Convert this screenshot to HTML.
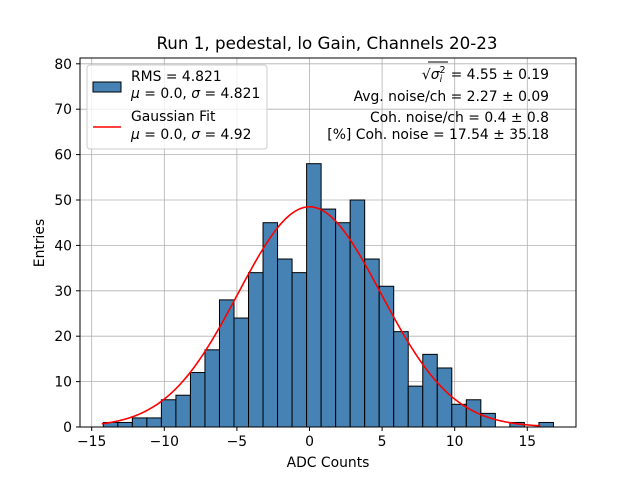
<!DOCTYPE html>
<html><head><meta charset="utf-8"><style>
body{margin:0;background:#fff;}
svg text{font-family:"DejaVu Sans","Liberation Sans",sans-serif;}
</style></head><body>
<svg id="chart" width="640" height="480" viewBox="0 0 640 480" xmlns="http://www.w3.org/2000/svg">
<rect width="640" height="480" fill="#fff"/>
<text x="327" y="49" font-size="16.7" text-anchor="middle">Run 1, pedestal, lo Gain, Channels 20-23</text>
<g id="grid"></g>
<g id="bars"></g>
<g id="curve"></g>
<rect x="80" y="58" width="496" height="369" fill="none" stroke="#000" stroke-width="1"/>
<g id="axes"></g>
<text x="328" y="467" font-size="13.9" text-anchor="middle">ADC Counts</text>
<text transform="translate(44,243) rotate(-90)" font-size="13.9" text-anchor="middle">Entries</text>
<g>
<rect x="87" y="65" width="180" height="84" rx="3" fill="#fff" fill-opacity="0.8" stroke="#ccc"/>
<rect x="93" y="82" width="28" height="10" fill="#4682b4" stroke="#000"/>
<text x="131" y="81" font-size="13.9">RMS = 4.821</text>
<text x="131" y="98" font-size="13.9"><tspan font-style="italic">μ</tspan> = 0.0, <tspan font-style="italic">σ</tspan> = 4.821</text>
<line x1="93" y1="127" x2="121" y2="127" stroke="red" stroke-width="1.5"/>
<text x="131" y="121" font-size="13.9">Gaussian Fit</text>
<text x="131" y="139" font-size="13.9"><tspan font-style="italic">μ</tspan> = 0.0, <tspan font-style="italic">σ</tspan> = 4.92</text>
</g>
<g font-size="13.9" text-anchor="end">
<text x="549" y="79">√<tspan font-style="italic">σ</tspan><tspan font-size="9.5" dy="-6">2</tspan><tspan font-size="9.5" dy="9" dx="-6" font-style="italic">i</tspan><tspan dy="-3" dx="4"> = 4.55 ± 0.19</tspan></text>
<line x1="428" y1="62" x2="448" y2="62" stroke="#000" stroke-width="0.9"/>
<text x="549" y="101">Avg. noise/ch = 2.27 ± 0.09</text>
<text x="549" y="122">Coh. noise/ch = 0.4 ± 0.8</text>
<text x="549" y="139">[%] Coh. noise = 17.54 ± 35.18</text>
</g>
</svg>
<script>
const binStart = -14.2;
const binWidth = 1.0;
const counts = [1,1,2,2,6,7,12,17,28,24,34,45,37,34,58,48,45,50,37,31,21,9,16,13,5,6,3,0,1,0,1];
const fitMu = 0.0;
const fitSigma = 4.92;
const fitAmp = 48.5;
const fitRange = [-14.3, 15.9];
const xTicks = [-15,-10,-5,0,5,10,15];
const yTicks = [0,10,20,30,40,50,60,70,80];

const NS="http://www.w3.org/2000/svg";
function X(v){return 309.5+v*14.52;}
function Y(v){return 427-v*4.54;}
function mk(tag,attrs,parent){const e=document.createElementNS(NS,tag);for(const k in attrs)e.setAttribute(k,attrs[k]);parent.appendChild(e);return e;}
const grid=document.getElementById('grid'),bars=document.getElementById('bars'),curve=document.getElementById('curve'),axes=document.getElementById('axes');
xTicks.forEach(t=>{
  const g=mk('line',{x1:X(t),x2:X(t),y1:58,y2:427,stroke:'#b0b0b0','stroke-width':0.8},grid);
  
  
  mk('line',{x1:X(t),x2:X(t),y1:427,y2:431,stroke:'#000'},axes);
  const tx=mk('text',{x:X(t),y:446,'font-size':13.9,'text-anchor':'middle'},axes);
  tx.textContent=(t<0?'−'+(-t):t);
  
  
});
yTicks.forEach(t=>{
  const g=mk('line',{x1:80,x2:576,y1:Y(t),y2:Y(t),stroke:'#b0b0b0','stroke-width':0.8},grid);
  
  
  mk('line',{x1:76,x2:80,y1:Y(t),y2:Y(t),stroke:'#000'},axes);
  const tx=mk('text',{x:72,y:Y(t)+5,'font-size':13.9,'text-anchor':'end'},axes);
  tx.textContent=t;
  
  
});
counts.forEach((c,i)=>{
  if(c<=0)return;
  const x0=X(binStart+i*binWidth),x1=X(binStart+(i+1)*binWidth);
  const r=mk('rect',{x:x0,y:Y(c),width:x1-x0,height:Y(0)-Y(c),fill:'#4682b4',stroke:'#000','stroke-width':1},bars);
  
  
});
let d='';
for(let k=0;k<=200;k++){
  const v=fitRange[0]+(fitRange[1]-fitRange[0])*k/200;
  const y=fitAmp*Math.exp(-0.5*Math.pow((v-fitMu)/fitSigma,2));
  d+=(k?'L':'M')+X(v).toFixed(2)+','+Y(y).toFixed(2);
}
const p=mk('path',{d:d,fill:'none',stroke:'red','stroke-width':1.6},curve);


</script>
</body></html>
